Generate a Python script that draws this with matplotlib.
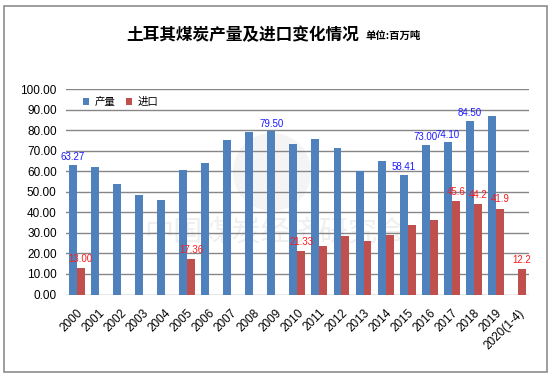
import numpy as np
import matplotlib
matplotlib.use('Agg')
from matplotlib import pyplot as plt
from matplotlib.patches import Rectangle, Ellipse

plt.rcParams['font.family'] = ['Liberation Sans', 'Noto Sans CJK SC']

# data
years = ['2000', '2001', '2002', '2003', '2004', '2005', '2006', '2007', '2008', '2009',
         '2010', '2011', '2012', '2013', '2014', '2015', '2016', '2017', '2018', '2019',
         '2020(1-4)']
output = [63.27, 62.1, 53.8, 48.4, 46.0, 60.6, 64.0, 75.3, 79.2, 79.50,
          73.3, 75.8, 71.4, 60.1, 65.0, 58.41, 73.00, 74.10, 84.50, 87.0, np.nan]
imports = [13.00, np.nan, np.nan, np.nan, np.nan, 17.36, np.nan, np.nan, np.nan, np.nan,
           21.33, 23.5, 28.4, 26.0, 28.9, 33.8, 36.2, 45.6, 44.2, 41.9, 12.2]
output_labels = {0: '63.27', 9: '79.50', 15: '58.41', 16: '73.00', 17: '74.10', 18: '84.50'}
import_labels = {0: '13.00', 5: '17.36', 10: '21.33', 17: '45.6', 18: '44.2', 19: '41.9', 20: '12.2'}

W, H = 554, 378
fig = plt.figure(figsize=(W / 100, H / 100), dpi=100)
ax = fig.add_axes([65.7 / W, (H - 294.5) / H, 463.3 / W, 205.2 / H])

# outer frame
fig.patches.append(Rectangle((4 / W, 6 / H), 543 / W, 366 / H, transform=fig.transFigure,
                             fill=False, edgecolor='#8c8c8c', lw=1.2))

# faint watermark behind grid and bars
ax.add_patch(Ellipse((272 / W, 1 - 172 / H), 78 / W, 78 / H, transform=fig.transFigure,
                     facecolor='#f4f4f4', edgecolor='none', zorder=0.1, clip_on=False))
ax.text(275 / W, 1 - 234 / H, '中国煤炭经济研究会', fontsize=21, color='#efefef',
        ha='center', va='center', family=['Noto Sans CJK SC'], transform=fig.transFigure,
        zorder=0.2)

x = np.arange(len(years))
w = 0.36
ax.bar(x - w / 2, output, w, color='#4F81BD', label='产量', zorder=3)
ax.bar(x + w / 2, imports, w, color='#C0504D', label='进口', zorder=3)

for i, t in output_labels.items():
    ax.annotate(t, (x[i] - w / 2, output[i]), xytext=(0, 2), textcoords='offset points',
                ha='center', va='bottom', fontsize=7, color='#1a1aff', zorder=4)
for i, t in import_labels.items():
    ax.annotate(t, (x[i] + w / 2, imports[i]), xytext=(0, 3), textcoords='offset points',
                ha='center', va='bottom', fontsize=7, color='#ff1a1a', zorder=4)

ax.set_xlim(-0.5, len(years) - 0.5)
ax.set_ylim(0, 100)
ax.set_yticks(np.arange(0, 101, 10))
ax.set_yticklabels(['%.2f' % v for v in np.arange(0, 101, 10)], fontsize=8.5)
ax.set_xticks(x)
ax.set_xticklabels(years, fontsize=8.5, rotation=45, ha='right', rotation_mode='anchor')
ax.tick_params(axis='both', length=0)
ax.tick_params(axis='y', pad=6.5)
ax.tick_params(axis='x', pad=9)
ax.grid(axis='y', color='#868686', lw=1, zorder=1)
for s in ax.spines.values():
    s.set_visible(False)

ax.legend(loc='upper left', bbox_to_anchor=(83 / W, 1 - 97 / H), bbox_transform=fig.transFigure,
          ncol=2, frameon=False, fontsize=7.5, handlelength=0.6, handleheight=0.6,
          handletextpad=0.5, columnspacing=1.0, borderaxespad=0, borderpad=0)

fig.text(243 / W, 1 - 35 / H, '土耳其煤炭产量及进口变化情况', fontsize=12, fontweight='bold',
         ha='center', va='center', family=['Noto Sans CJK SC'])
fig.text(366 / W, 1 - 36 / H, '单位:百万吨', fontsize=7.5, fontweight='bold',
         ha='left', va='center', family=['Noto Sans CJK SC'])

fig.savefig('out.png', dpi=100)
